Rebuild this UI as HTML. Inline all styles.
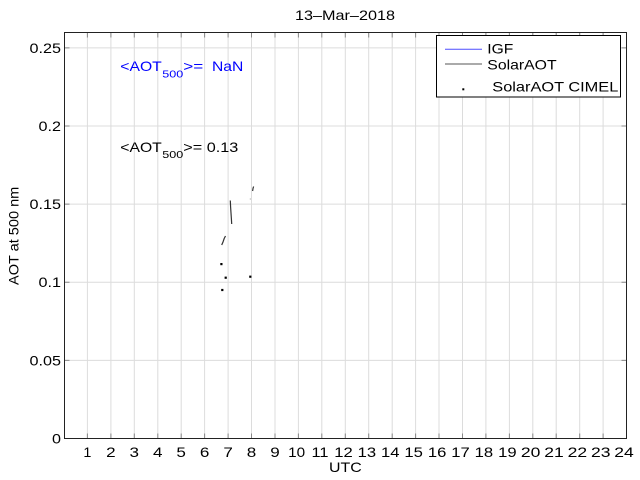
<!DOCTYPE html>
<html><head><meta charset="utf-8"><style>
html,body{margin:0;padding:0;background:#fff;}
svg{display:block;}
text{font-family:"Liberation Sans",Arial,sans-serif;}
</style></head><body>
<svg width="640" height="480" viewBox="0 0 640 480" xmlns="http://www.w3.org/2000/svg">
<rect width="640" height="480" fill="#fff"/>
<!-- grid -->
<g stroke="#dcdcdc" stroke-width="1">
<line x1="87.4" y1="32.5" x2="87.4" y2="438.5"/>
<line x1="110.9" y1="32.5" x2="110.9" y2="438.5"/>
<line x1="134.3" y1="32.5" x2="134.3" y2="438.5"/>
<line x1="157.8" y1="32.5" x2="157.8" y2="438.5"/>
<line x1="181.2" y1="32.5" x2="181.2" y2="438.5"/>
<line x1="204.6" y1="32.5" x2="204.6" y2="438.5"/>
<line x1="228.1" y1="32.5" x2="228.1" y2="438.5"/>
<line x1="251.5" y1="32.5" x2="251.5" y2="438.5"/>
<line x1="275.0" y1="32.5" x2="275.0" y2="438.5"/>
<line x1="298.4" y1="32.5" x2="298.4" y2="438.5"/>
<line x1="321.8" y1="32.5" x2="321.8" y2="438.5"/>
<line x1="345.3" y1="32.5" x2="345.3" y2="438.5"/>
<line x1="368.7" y1="32.5" x2="368.7" y2="438.5"/>
<line x1="392.2" y1="32.5" x2="392.2" y2="438.5"/>
<line x1="415.6" y1="32.5" x2="415.6" y2="438.5"/>
<line x1="439.0" y1="32.5" x2="439.0" y2="438.5"/>
<line x1="462.5" y1="32.5" x2="462.5" y2="438.5"/>
<line x1="485.9" y1="32.5" x2="485.9" y2="438.5"/>
<line x1="509.4" y1="32.5" x2="509.4" y2="438.5"/>
<line x1="532.8" y1="32.5" x2="532.8" y2="438.5"/>
<line x1="556.2" y1="32.5" x2="556.2" y2="438.5"/>
<line x1="579.7" y1="32.5" x2="579.7" y2="438.5"/>
<line x1="603.1" y1="32.5" x2="603.1" y2="438.5"/>
<line x1="64.5" y1="360.4" x2="626.5" y2="360.4"/>
<line x1="64.5" y1="282.3" x2="626.5" y2="282.3"/>
<line x1="64.5" y1="204.1" x2="626.5" y2="204.1"/>
<line x1="64.5" y1="126.0" x2="626.5" y2="126.0"/>
<line x1="64.5" y1="47.9" x2="626.5" y2="47.9"/>
</g>
<!-- ticks -->
<g stroke="#888" stroke-width="1">
<path d="M87.4 438.5v-5M110.9 438.5v-5M134.3 438.5v-5M157.8 438.5v-5M181.2 438.5v-5M204.6 438.5v-5M228.1 438.5v-5M251.5 438.5v-5M275 438.5v-5M298.4 438.5v-5M321.8 438.5v-5M345.3 438.5v-5M368.7 438.5v-5M392.2 438.5v-5M415.6 438.5v-5M439 438.5v-5M462.5 438.5v-5M485.9 438.5v-5M509.4 438.5v-5M532.8 438.5v-5M556.2 438.5v-5M579.7 438.5v-5M603.1 438.5v-5"/>
<path d="M87.4 32.5v5M110.9 32.5v5M134.3 32.5v5M157.8 32.5v5M181.2 32.5v5M204.6 32.5v5M228.1 32.5v5M251.5 32.5v5M275 32.5v5M298.4 32.5v5M321.8 32.5v5M345.3 32.5v5M368.7 32.5v5M392.2 32.5v5M415.6 32.5v5M439 32.5v5M462.5 32.5v5M485.9 32.5v5M509.4 32.5v5M532.8 32.5v5M556.2 32.5v5M579.7 32.5v5M603.1 32.5v5"/>
<path d="M64.5 360.4h5M64.5 282.3h5M64.5 204.1h5M64.5 126h5M64.5 47.9h5M626.5 360.4h-5M626.5 282.3h-5M626.5 204.1h-5M626.5 126h-5M626.5 47.9h-5"/>
</g>
<!-- axes -->
<path d="M64.5 32.5V438.5H626.5V32.5Z" fill="none" stroke="#222" stroke-width="1"/>
<!-- data: SolarAOT -->
<g fill="none" stroke="#333" stroke-width="1.2">
<polyline points="230.3,200.5 230.6,207 231,213 231.4,219 231.7,224"/>
<polyline points="221.7,245 223,242 224.2,238.5 225.5,236"/>
<polyline points="252.6,191 253,188.5 253.6,186.5"/>
</g>
<rect x="249.8" y="198.5" width="1" height="1" fill="#999"/>
<!-- CIMEL points -->
<g fill="#000">
<rect x="220.3" y="263" width="2.2" height="2.2"/>
<rect x="224.6" y="276.6" width="2.2" height="2.2"/>
<rect x="221.2" y="288.9" width="2.2" height="2.2"/>
<rect x="249.2" y="275.6" width="2.2" height="2.2"/>
</g>
<!-- tick labels x -->
<g font-size="14" text-anchor="middle" fill="#000">
<text x="87.4" y="456.9" textLength="8" lengthAdjust="spacingAndGlyphs">1</text>
<text x="110.9" y="456.9" textLength="9.5" lengthAdjust="spacingAndGlyphs">2</text>
<text x="134.3" y="456.9" textLength="9.5" lengthAdjust="spacingAndGlyphs">3</text>
<text x="157.8" y="456.9" textLength="9.5" lengthAdjust="spacingAndGlyphs">4</text>
<text x="181.2" y="456.9" textLength="9.5" lengthAdjust="spacingAndGlyphs">5</text>
<text x="204.6" y="456.9" textLength="9.5" lengthAdjust="spacingAndGlyphs">6</text>
<text x="228.1" y="456.9" textLength="9.5" lengthAdjust="spacingAndGlyphs">7</text>
<text x="251.5" y="456.9" textLength="9.5" lengthAdjust="spacingAndGlyphs">8</text>
<text x="275.0" y="456.9" textLength="9.5" lengthAdjust="spacingAndGlyphs">9</text>
<text x="296.6" y="456.9" textLength="17" lengthAdjust="spacingAndGlyphs">10</text>
<text x="320.0" y="456.9" textLength="17" lengthAdjust="spacingAndGlyphs">11</text>
<text x="343.5" y="456.9" textLength="18.5" lengthAdjust="spacingAndGlyphs">12</text>
<text x="366.9" y="456.9" textLength="18.5" lengthAdjust="spacingAndGlyphs">13</text>
<text x="390.3" y="456.9" textLength="18.5" lengthAdjust="spacingAndGlyphs">14</text>
<text x="413.7" y="456.9" textLength="18.5" lengthAdjust="spacingAndGlyphs">15</text>
<text x="437.1" y="456.9" textLength="18.5" lengthAdjust="spacingAndGlyphs">16</text>
<text x="460.5" y="456.9" textLength="18.5" lengthAdjust="spacingAndGlyphs">17</text>
<text x="483.9" y="456.9" textLength="18.5" lengthAdjust="spacingAndGlyphs">18</text>
<text x="507.4" y="456.9" textLength="18.5" lengthAdjust="spacingAndGlyphs">19</text>
<text x="530.6" y="456.9" textLength="19.5" lengthAdjust="spacingAndGlyphs">20</text>
<text x="554.0" y="456.9" textLength="19.5" lengthAdjust="spacingAndGlyphs">21</text>
<text x="577.4" y="456.9" textLength="19.5" lengthAdjust="spacingAndGlyphs">22</text>
<text x="600.8" y="456.9" textLength="19.5" lengthAdjust="spacingAndGlyphs">23</text>
<text x="624.0" y="456.9" textLength="19.5" lengthAdjust="spacingAndGlyphs">24</text>
</g>
<!-- tick labels y -->
<g font-size="14" text-anchor="end" fill="#000">
<text x="61" y="443.5" textLength="9" lengthAdjust="spacingAndGlyphs">0</text>
<text x="61" y="365.3" textLength="31.5" lengthAdjust="spacingAndGlyphs">0.05</text>
<text x="61" y="287.2" textLength="22.5" lengthAdjust="spacingAndGlyphs">0.1</text>
<text x="61" y="209.0" textLength="31.5" lengthAdjust="spacingAndGlyphs">0.15</text>
<text x="61" y="130.9" textLength="22.5" lengthAdjust="spacingAndGlyphs">0.2</text>
<text x="61" y="52.8" textLength="31.5" lengthAdjust="spacingAndGlyphs">0.25</text>
</g>
<!-- title and labels -->
<g fill="#000">
<text x="295" y="20" font-size="14" textLength="100" lengthAdjust="spacingAndGlyphs">13–Mar–2018</text>
<text x="329" y="472" font-size="14" textLength="32.7" lengthAdjust="spacingAndGlyphs">UTC</text>
<text transform="translate(18.6,285) rotate(-90)" x="0" y="0" font-size="14" textLength="98.3" lengthAdjust="spacingAndGlyphs">AOT at 500 nm</text>
</g>
<!-- annotations -->
<g style="fill:#0000ff">
<text x="120.3" y="71.2" font-size="14" style="fill:#0000ff" textLength="41.5" lengthAdjust="spacingAndGlyphs">&lt;AOT</text>
<text x="162.3" y="77.7" font-size="10.5" style="fill:#0000ff" textLength="21" lengthAdjust="spacingAndGlyphs">500</text>
<text x="183.3" y="71.2" font-size="14" style="fill:#0000ff" textLength="20" lengthAdjust="spacingAndGlyphs">&gt;=</text>
<text x="212" y="71.2" font-size="14" style="fill:#0000ff" textLength="31.3" lengthAdjust="spacingAndGlyphs">NaN</text>
</g>
<g fill="#000">
<text x="120.3" y="151.9" font-size="14" textLength="41.5" lengthAdjust="spacingAndGlyphs">&lt;AOT</text>
<text x="162.3" y="158.2" font-size="10.5" textLength="21" lengthAdjust="spacingAndGlyphs">500</text>
<text x="183.3" y="151.9" font-size="14" textLength="55" lengthAdjust="spacingAndGlyphs">&gt;= 0.13</text>
</g>
<!-- legend -->
<rect x="436.5" y="35.5" width="184" height="61.5" fill="#fff" stroke="#000" stroke-width="1"/>
<line x1="445" y1="49.3" x2="482" y2="49.3" stroke="#4f4fff" stroke-width="1"/>
<line x1="445" y1="64" x2="482" y2="64" stroke="#aaaaaa" stroke-width="2"/>
<rect x="462.3" y="88.3" width="2" height="2" fill="#000"/>
<g fill="#000">
<text x="487.3" y="53.5" font-size="14" textLength="26" lengthAdjust="spacingAndGlyphs">IGF</text>
<text x="487.3" y="69.7" font-size="14" textLength="69.3" lengthAdjust="spacingAndGlyphs">SolarAOT</text>
<text x="492.3" y="91.7" font-size="14" textLength="126" lengthAdjust="spacingAndGlyphs">SolarAOT CIMEL</text>
</g>
</svg>
</body></html>
